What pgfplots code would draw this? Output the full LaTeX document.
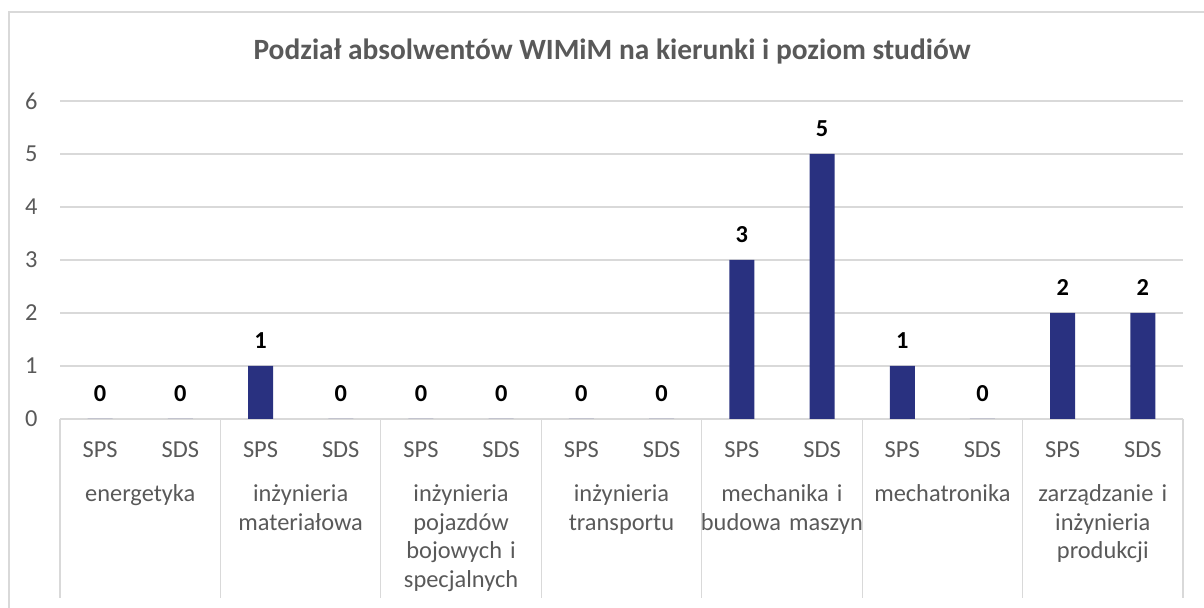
\documentclass[border=0pt]{standalone}
\usepackage{fontspec}
\setmainfont{Carlito}
\usepackage{pgfplots}
\pgfplotsset{compat=1.18}
\definecolor{barcol}{HTML}{293180}
\definecolor{gridc}{HTML}{D9D9D9}
\definecolor{txt}{HTML}{595959}
\begin{document}
\begin{tikzpicture}
\path[use as bounding box] (0,0) rectangle (602pt,304pt);
\draw[gridc, line width=0.7pt] (4.5pt,0) -- (4.5pt,298pt) -- (602pt,298pt);
\node[anchor=base, inner sep=0pt, font=\fontsize{14.7}{17}\selectfont\bfseries, text=txt] at (306pt,274pt) {Podział absolwentów WIMiM na kierunki i poziom studiów};
\begin{axis}[
  at={(30pt,94.5pt)}, anchor=south west, scale only axis,
  width=561.5pt, height=159pt,
  xmin=0, xmax=7, ymin=0, ymax=6,
  ytick={0,1,2,3,4,5,6},
  xtick={0.25,0.75,1.25,1.75,2.25,2.75,3.25,3.75,4.25,4.75,5.25,5.75,6.25,6.75},
  xticklabels={SPS,SDS,SPS,SDS,SPS,SDS,SPS,SDS,SPS,SDS,SPS,SDS,SPS,SDS},
  axis line style={draw=none},
  major tick length=0pt,
  ymajorgrids, grid style={gridc, line width=0.6pt},
  /pgf/number format/assume math mode=true,
  ticklabel style={font=\fontsize{12.2}{14}\selectfont, text=txt},
  yticklabel style={anchor=east, inner sep=0pt, xshift=-11pt},
  xticklabel style={anchor=base, inner sep=0pt, yshift=-19.5pt},
  clip=false,
  ybar, bar width=12.5pt,
  nodes near coords,
  every node near coord/.append style={font=\fontsize{12.2}{14}\selectfont\bfseries, text=black, anchor=base, inner sep=0pt, yshift=8.5pt},
]
\addplot[fill=barcol, draw=none] coordinates {
  (0.25,0) (0.75,0) (1.25,1) (1.75,0) (2.25,0) (2.75,0) (3.25,0) (3.75,0)
  (4.25,3) (4.75,5) (5.25,1) (5.75,0) (6.25,2) (6.75,2)
};
\pgfplotsinvokeforeach{0,1,2,3,4,5,6,7}{
  \draw[gridc, line width=0.6pt] (axis cs:#1,0) -- ++(0,-89.5pt);
}
\tikzset{catlab/.style={anchor=base, inner sep=0pt, text width=85pt, align=center, text=txt, font=\fontsize{12.2}{14.2}\selectfont, yshift=-41.5pt}}
\node[catlab] at (axis cs:0.5,0) {energetyka};
\node[catlab] at (axis cs:1.5,0) {inżynieria\\materiałowa};
\node[catlab] at (axis cs:2.5,0) {inżynieria\\pojazdów\\bojowych i\\specjalnych};
\node[catlab] at (axis cs:3.5,0) {inżynieria\\transportu};
\node[catlab] at (axis cs:4.5,0) {mechanika i\\budowa maszyn};
\node[catlab] at (axis cs:5.5,0) {mechatronika};
\node[catlab] at (axis cs:6.5,0) {zarządzanie i\\inżynieria\\produkcji};
\end{axis}
\end{tikzpicture}
\end{document}
